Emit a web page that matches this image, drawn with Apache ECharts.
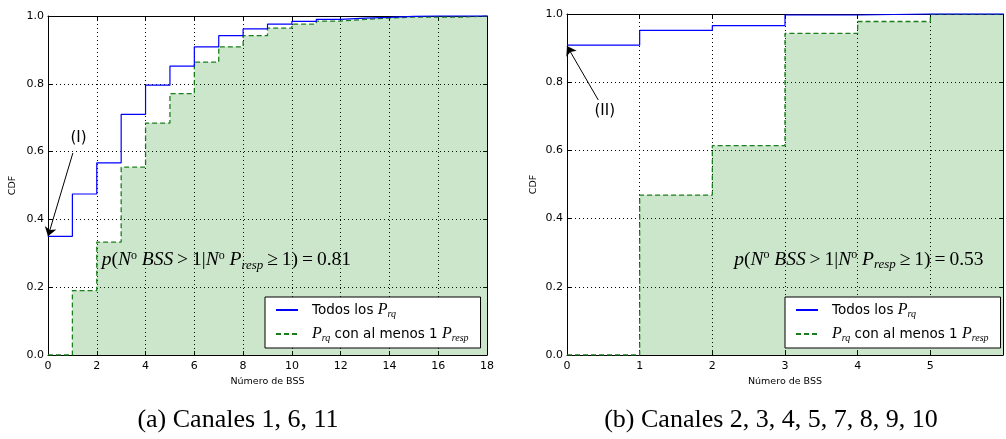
<!DOCTYPE html>
<html><head><meta charset="utf-8">
<script src="https://cdn.jsdelivr.net/npm/echarts@6/dist/echarts.min.js"></script>
<style>html,body{margin:0;padding:0;background:#fff}#c{width:1006px;height:439px}</style>
</head><body><div id="c"></div>
<script>
// ---- data ----
const leftXTicks = [0, 2, 4, 6, 8, 10, 12, 14, 16, 18];
const rightXTicks = [0, 1, 2, 3, 4, 5, 6];
const yTicks = [0.0, 0.2, 0.4, 0.6, 0.8, 1.0];
// CDF values on each interval [k, k+1)
const leftAll  = [0.35, 0.475, 0.567, 0.71, 0.796, 0.852, 0.909, 0.942, 0.962, 0.976, 0.984, 0.99, 0.994, 0.996, 0.999, 1.0, 1.0, 1.0];
const leftResp = [0.0, 0.19, 0.333, 0.554, 0.684, 0.771, 0.864, 0.909, 0.942, 0.964, 0.976, 0.985, 0.99, 0.994, 0.997, 0.997, 0.997, 1.0];
const rightAll  = [0.909, 0.952, 0.966, 0.997, 1.0, 1.0];
const rightResp = [0.0, 0.469, 0.614, 0.943, 0.978, 0.999];
const leftFormula = '{it|p}({it|N}{sup|o} {it|BSS}\u2009>\u20091|{it|N}{sup|o} {it|P}{sub|resp}\u2009≥\u20091)\u2009=\u20090.81';
const rightFormula = '{it|p}({it|N}{sup|o} {it|BSS}\u2009>\u20091|{it|N}{sup|o} {it|P}{sub|resp}\u2009≥\u20091)\u2009=\u20090.53';
const leftFormulaAt = [2.2, 0.28];
const rightFormulaAt = [2.3, 0.28];
const annI = {label: '(I)', text: [1.25, 0.64], from: [1.02, 0.596], to: [0, 0.35]};
const annII = {label: '(II)', text: [0.52, 0.715], from: [0.43, 0.748], to: [0, 0.906]};
const captions = ['(a) Canales 1, 6, 11', '(b) Canales 2, 3, 4, 5, 7, 8, 9, 10'];
const xName = 'Número de BSS';
const yName = 'CDF';

function steps(vals) {
  return vals.map((v, i) => [i, v]).concat([[vals.length, vals[vals.length - 1]]]);
}

const chart = echarts.init(document.getElementById('c'));
const sans = 'DejaVu Sans';
const serif = 'Liberation Serif';
const richMath = {
  it: {fontStyle: 'italic', fontFamily: serif, fontSize: 19.5, color: '#000'},
  sup: {fontFamily: serif, fontSize: 12, color: '#000', padding: [0, 0, 9, 0]},
  sub: {fontStyle: 'italic', fontFamily: serif, fontSize: 13, color: '#000', padding: [10, 0, 0, 0]},
};
const richLegend = {
  t: {fontFamily: sans, fontSize: 13.5, color: '#000'},
  it: {fontStyle: 'italic', fontFamily: serif, fontSize: 16, color: '#000'},
  sub: {fontStyle: 'italic', fontFamily: serif, fontSize: 10, color: '#000', padding: [8, 0, 0, 0]},
};

function mainX(gi, ticks, hideLast) {
  return {
    type: 'value', gridIndex: gi, min: ticks[0], max: ticks[ticks.length - 1],
    interval: ticks[1] - ticks[0],
    name: xName, nameLocation: 'middle', nameGap: 21,
    nameTextStyle: {fontFamily: sans, fontSize: 9.5, color: '#000'},
    axisLine: {show: true, onZero: false, lineStyle: {color: '#000', width: 1}},
    axisTick: {show: true, inside: true, length: 4, lineStyle: {color: '#000'}},
    axisLabel: {fontFamily: sans, fontSize: 11, color: '#000', margin: 6,
      formatter: v => (hideLast && v === ticks[ticks.length - 1]) ? '' : String(v)},
    splitLine: {show: true, lineStyle: {color: '#000', type: [1, 3], width: 1}},
  };
}
function topX(gi, ticks) {
  return {
    type: 'value', gridIndex: gi, position: 'top', min: ticks[0], max: ticks[ticks.length - 1],
    interval: ticks[1] - ticks[0],
    axisLine: {show: true, onZero: false, lineStyle: {color: '#000', width: 1}},
    axisTick: {show: true, inside: true, length: 4, lineStyle: {color: '#000'}},
    axisLabel: {show: false}, splitLine: {show: false},
  };
}
function mainY(gi, gap) {
  return {
    type: 'value', gridIndex: gi, min: 0, max: 1, interval: 0.2,
    name: yName, nameLocation: 'middle', nameGap: gap,
    nameTextStyle: {fontFamily: sans, fontSize: 9.5, color: '#000'},
    axisLine: {show: true, onZero: false, lineStyle: {color: '#000', width: 1}},
    axisTick: {show: true, inside: true, length: 4, lineStyle: {color: '#000'}},
    axisLabel: {fontFamily: sans, fontSize: 11, color: '#000', margin: 4, formatter: v => v.toFixed(1)},
    splitLine: {show: true, lineStyle: {color: '#000', type: [1, 3], width: 1}},
  };
}
function rightY(gi) {
  return {
    type: 'value', gridIndex: gi, position: 'right', min: 0, max: 1, interval: 0.2,
    axisLine: {show: true, onZero: false, lineStyle: {color: '#000', width: 1}},
    axisTick: {show: true, inside: true, length: 4, lineStyle: {color: '#000'}},
    axisLabel: {show: false}, splitLine: {show: false},
  };
}

function respSeries(xi, yi, vals, formula, formulaAt) {
  return {
    name: 'resp', type: 'line', xAxisIndex: xi, yAxisIndex: yi, step: 'end',
    data: steps(vals), symbol: 'none', showSymbol: false, silent: true,
    lineStyle: {color: '#1a7f1a', width: 1.3, type: [5, 3]},
    itemStyle: {color: '#1a7f1a'},
    areaStyle: {color: 'rgba(0,128,0,0.2)', opacity: 1, origin: 'start'},
    z: 2,
    markPoint: {
      silent: true, symbol: 'circle', symbolSize: 0, animation: false,
      data: [{coord: formulaAt, value: 0}],
      label: {show: true, position: 'right', distance: 0, formatter: formula,
        fontFamily: serif, fontSize: 19.5, color: '#000', rich: richMath},
    },
  };
}
function allSeries(xi, yi, vals, ann) {
  return {
    name: 'all', type: 'line', xAxisIndex: xi, yAxisIndex: yi, step: 'end',
    data: steps(vals), symbol: 'none', showSymbol: false, silent: true, clip: false,
    lineStyle: {color: '#0000ff', width: 1.2},
    itemStyle: {color: '#0000ff'},
    z: 3,
    markLine: {
      silent: true, animation: false, symbol: ['none', 'arrow'], symbolSize: 9,
      lineStyle: {color: '#000', width: 1, type: 'solid', opacity: 1},
      itemStyle: {color: '#000', opacity: 1},
      label: {show: false},
      data: [[{coord: ann.from}, {coord: ann.to}]],
    },
    markPoint: {
      silent: true, symbol: 'circle', symbolSize: 0, animation: false,
      data: [{coord: ann.text, value: 0}],
      label: {show: true, position: 'inside', formatter: ann.label,
        fontFamily: sans, fontSize: 15, color: '#000'},
    },
  };
}

const legendFmt = {
  all: '{t|Todos los }{it|P}{sub|rq}',
  resp: '{it|P}{sub|rq}{t| con al menos 1 }{it|P}{sub|resp}',
};
function legend(left, top) {
  return {
    orient: 'vertical', left: left, top: top, selectedMode: false,
    data: ['all', 'resp'], itemWidth: 22, itemHeight: 10, itemGap: 7,
    padding: [5, 12, 5, 10], borderColor: '#000', borderWidth: 1, backgroundColor: '#fff',
    itemStyle: {opacity: 0, borderWidth: 0},
    formatter: n => legendFmt[n],
    textStyle: {rich: richLegend, padding: [0, 0, 0, 9]},
  };
}

chart.setOption({
  animation: false,
  backgroundColor: '#fff',
  grid: [
    {left: 48, top: 16, width: 439, height: 339},
    {left: 567, top: 14, width: 440, height: 341},
  ],
  xAxis: [mainX(0, leftXTicks, false), mainX(1, rightXTicks, true), topX(0, leftXTicks), topX(1, rightXTicks)],
  yAxis: [mainY(0, 30), mainY(1, 28), rightY(0), rightY(1)],
  legend: [legend(265, 297), legend(785, 297)],
  series: [
    respSeries(0, 0, leftResp, leftFormula, leftFormulaAt),
    allSeries(0, 0, leftAll, annI),
    respSeries(1, 1, rightResp, rightFormula, rightFormulaAt),
    allSeries(1, 1, rightAll, annII),
  ],
  graphic: [
    {type: 'text', x: 238, y: 407, style: {text: captions[0], textAlign: 'center',
      font: '26px "Liberation Serif"', fill: '#000'}},
    {type: 'text', x: 771, y: 407, style: {text: captions[1], textAlign: 'center',
      font: '26px "Liberation Serif"', fill: '#000'}},
  ],
});
</script></body></html>
